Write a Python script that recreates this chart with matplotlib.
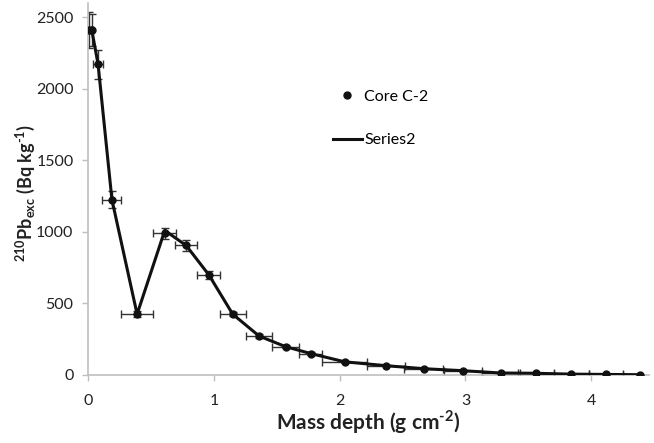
import matplotlib
matplotlib.use("Agg")
import matplotlib.pyplot as plt

plt.rcParams['font.family'] = ['Lato', 'DejaVu Sans']
plt.rcParams['mathtext.fontset'] = 'custom'
plt.rcParams['mathtext.rm'] = 'Lato'
plt.rcParams['mathtext.bf'] = 'Lato:bold'

mass_depth = [0.01, 0.03, 0.08, 0.19, 0.39, 0.61, 0.78, 0.96, 1.15, 1.36, 1.57,
              1.77, 2.04, 2.37, 2.67, 2.98, 3.28, 3.56, 3.84, 4.12, 4.39]
pb_exc = [2410, 2410, 2170, 1225, 425, 990, 905, 700, 425, 272, 198,
          150, 92, 65, 44, 30, 14, 12, 6, 4, 2]
x_err = [0.01, 0.01, 0.04, 0.075, 0.13, 0.09, 0.085, 0.09, 0.105, 0.105, 0.105,
         0.09, 0.18, 0.15, 0.155, 0.15, 0.15, 0.14, 0.14, 0.135, 0.135]
y_err = [125, 110, 100, 60, 20, 40, 40, 30, 15, 12, 10,
         8, 6, 5, 4, 3, 2, 2, 1, 1, 1]
line_y = [2410, 2410, 2170, 1225, 425, 1010, 905, 700, 425, 272, 198,
          150, 92, 65, 44, 30, 14, 12, 6, 4, 2]

fig = plt.figure(figsize=(6.54, 4.43), dpi=100)
ax = fig.add_axes([0.1346, 0.1535, 0.858, 0.84])

ax.errorbar(mass_depth, pb_exc, xerr=x_err, yerr=y_err, fmt='none',
            ecolor='#333333', elinewidth=1.0, capsize=3, capthick=1.0, zorder=2)
ax.plot(mass_depth, line_y, color='#111111', lw=2.2, zorder=3, label='Series2')
ax.plot(mass_depth, pb_exc, 'o', color='#111111', ms=5, zorder=4, label='Core C-2')

ax.set_xlim(0, 4.46)
ax.set_ylim(0, 2600)
ax.set_xticks([0, 1, 2, 3, 4])
ax.set_yticks([0, 500, 1000, 1500, 2000, 2500])
for s in ['top', 'right']:
    ax.spines[s].set_visible(False)
for s in ['left', 'bottom']:
    ax.spines[s].set_color('#bfbfbf')
    ax.spines[s].set_linewidth(1.2)
ax.tick_params(axis='both', colors='#bfbfbf', labelcolor='#222222',
               labelsize=11.5, length=4, width=1.0, direction='out')
ax.tick_params(axis='y', pad=6.5)
ax.tick_params(axis='x', pad=10)

hy = '\u2010'
ax.set_xlabel('Mass depth (g cm$^{\\mathbf{' + hy + '2}}$)', fontsize=15,
              fontweight='bold', color='#222222')
ax.set_ylabel('$^{\\mathbf{210}}$Pb$_{\\mathbf{exc}}$ (Bq kg$^{\\mathbf{' + hy + '1}}$)',
              fontsize=13, fontweight='bold', color='#222222')
ax.xaxis.set_label_coords(0.5, -0.089)
ax.yaxis.set_label_coords(-0.091, 0.488)

handles, labels = ax.get_legend_handles_labels()
order = [1, 0]
leg = ax.legend([handles[i] for i in order], [labels[i] for i in order],
                loc='upper left', bbox_to_anchor=(0.411, 0.806), frameon=False,
                fontsize=11.5, handlelength=1.8, labelspacing=1.85,
                handletextpad=0.15)

fig.savefig('out.png', dpi=100)
